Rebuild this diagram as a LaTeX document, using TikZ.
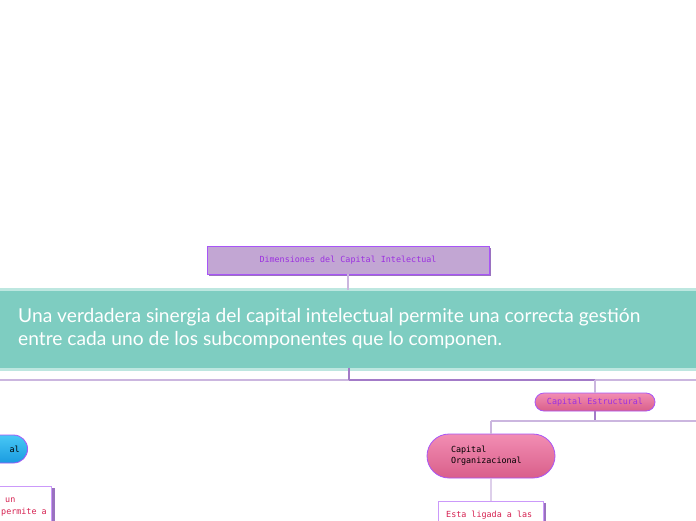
\documentclass[tikz,border=0pt]{standalone}
\usepackage{fontspec}
\setmainfont{Lato}
\newfontfamily\pixfont{DejaVu Sans Mono}
\usetikzlibrary{shapes.misc,shadings}
\definecolor{teal1}{HTML}{7ECDC1}
\definecolor{teal2}{HTML}{BDE7E0}
\definecolor{lav}{HTML}{C2A6D3}
\definecolor{purpb}{HTML}{A855F7}
\definecolor{purpt}{HTML}{9B30E0}
\definecolor{conn}{HTML}{CBB6DF}
\definecolor{connd}{HTML}{A37BC8}
\definecolor{pinkt}{HTML}{F28DB3}
\definecolor{pinkb}{HTML}{D95F8A}
\definecolor{bluet}{HTML}{48C8F5}
\definecolor{blueb}{HTML}{1A9BE0}
\definecolor{redt}{HTML}{D62050}
\definecolor{shad}{HTML}{9A72C0}
\tikzset{
  pix/.style={font=\pixfont\fontsize{8.4}{11}\selectfont},
  conline/.style={draw=conn, line width=1.2pt},
  condark/.style={draw=connd, line width=1.2pt},
  pinkpill/.style={rounded rectangle, draw=purpb, line width=0.8pt, top color=pinkt, bottom color=pinkb, inner sep=0pt},
  bluepill/.style={rounded rectangle, draw=purpb, line width=0.8pt, top color=bluet, bottom color=blueb, inner sep=0pt},
  notebox/.style={rectangle, draw=purpb!60, line width=0.8pt, fill=white, inner sep=0pt},
}
\begin{document}
\begin{tikzpicture}[x=1pt,y=-1pt]
\useasboundingbox (0,0) rectangle (696,520);
\clip (0,0) rectangle (696,520);
\fill[white] (0,0) rectangle (696,520);
% connectors
\coordinate (topL) at (0,380);
\coordinate (topR) at (696,380);
\coordinate (j1) at (349,380);
\coordinate (j2) at (595,380);
\coordinate (j3) at (595,421);
\coordinate (j4) at (491,421);
\coordinate (j5) at (696,421);
\draw[conline] (topL) -- (topR);
\draw[condark] (j1) -- (j2);
% top box
\fill[shad] (209,248) rectangle (491,276);
\node[rectangle, fill=lav, draw=purpb, line width=0.8pt, minimum width=282pt, minimum height=28pt, inner sep=0pt, pix, text=purpt] (dim) at (348,260) {Dimensiones del Capital Intelectual};
% banner
\fill[teal2] (0,288) rectangle (696,371);
\node[rectangle, fill=teal1, minimum width=696pt, minimum height=77pt, inner sep=0pt] (banner) at (348,329) {};
\node[anchor=west, text=white, align=left, font=\fontsize{19.2}{23}\selectfont, inner sep=0pt] (bantext) at (18,329) {Una verdadera sinergia del capital intelectual permite una correcta gestión\\entre cada uno de los subcomponentes que lo componen.};
\draw[conline] (dim.south) -- (banner.north);
\draw[condark] (banner.south -| j1) -- (j1);
% Capital Estructural
\node[pinkpill, minimum width=120pt, minimum height=18pt, pix, text=purpt] (ce) at (595,402) {Capital Estructural};
\draw[conline] (j2) -- (ce.north);
\draw[condark] (ce.south) -- (j3);
\draw[conline] (j4) -- (j5);
% Capital Organizacional
\node[pinkpill, minimum width=128pt, minimum height=44pt, pix, text=black, align=left, text width=80pt] (co) at (491,456) {Capital\\Organizacional};
\draw[conline] (j4) -- (co.north);
% Esta ligada box
\fill[shad] (441,503) rectangle (546,530);
\node[notebox, minimum width=105pt, minimum height=30pt, anchor=north west] (el) at (438,501) {};
\node[pix, text=redt, anchor=west, inner sep=0pt] (eltext) at (446,515) {Esta ligada a las};
\draw[conline] (co.south) -- (el.north);
% left blue pill
\node[bluepill, minimum width=128pt, minimum height=28pt, pix, text=black, anchor=east] (ch) at (28,449) {};
\node[pix, text=black, anchor=east, inner sep=0pt] (chtext) at (20,449.5) {al};
% left box
\fill[shad] (-60,488) rectangle (55,530);
\node[notebox, minimum width=112pt, minimum height=40pt, anchor=north east] (lb) at (52,486) {};
\node[pix, text=redt, anchor=west, inner sep=0pt] (lb1) at (5,500) {un};
\node[pix, text=redt, anchor=west, inner sep=0pt] (lb2) at (1,512) {permite a};
\end{tikzpicture}
\end{document}
